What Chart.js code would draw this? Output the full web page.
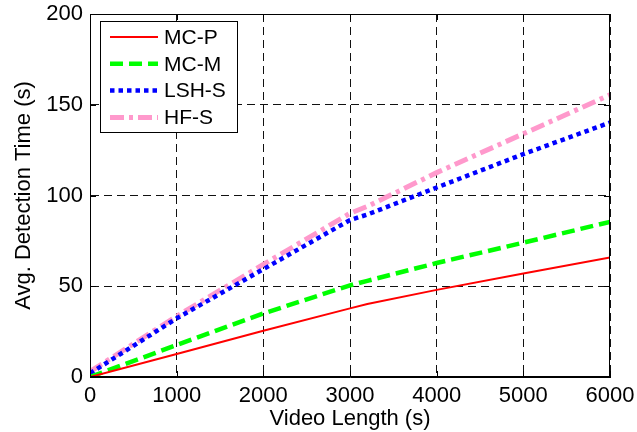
<!DOCTYPE html>
<html>
<head>
<meta charset="utf-8">
<script src="https://cdn.jsdelivr.net/npm/chart.js@4.4.0/dist/chart.umd.min.js"></script>
<style>
  html, body { margin: 0; padding: 0; background: #fff; }
</style>
</head>
<body>
<canvas id="chart" width="637" height="432"></canvas>
<script>
// data
const videoLength = [0, 1000, 2000, 3000, 3200, 4000, 5000, 6000];
const mcP  = [0, 12.7, 25.5, 37.8, 40.2, 48, 57, 65.8];
const mcM  = [0, 17.6, 35, 50.5, 53, 62.8, 74, 85.5];
const lshS = [2, 32.3, 59.4, 86.5, 89.5, 104.4, 122.8, 140.2];
const hfS  = [3, 33.5, 62, 90.2, 94, 112.6, 134, 155.5];
const seriesNames = ['MC-P', 'MC-M', 'LSH-S', 'HF-S'];

const FONT = '"Liberation Sans", Arial, Helvetica, sans-serif';

function toPoints(values) {
    return videoLength.map((x, i) => ({ x: x, y: values[i] }));
}

// legend drawn inside the plot, top-left, like the original
const insideLegend = {
    id: 'insideLegend',
    afterDatasetsDraw(chart) {
        const ctx = chart.ctx;
        const box = { x: 100.5, y: 21.5, w: 137, h: 111 };
        ctx.save();
        ctx.fillStyle = '#fff';
        ctx.fillRect(box.x, box.y, box.w, box.h);
        ctx.strokeStyle = '#000';
        ctx.lineWidth = 1;
        ctx.strokeRect(box.x, box.y, box.w, box.h);
        ctx.font = '21px ' + FONT;
        ctx.textBaseline = 'middle';
        ctx.fillStyle = '#000';
        chart.data.datasets.forEach((ds, i) => {
            const yy = 37 + i * 26.8;
            ctx.beginPath();
            ctx.strokeStyle = ds.borderColor;
            ctx.lineWidth = ds.borderWidth;
            ctx.setLineDash(ds.borderDash || []);
            ctx.moveTo(110, yy);
            ctx.lineTo(158, yy);
            ctx.stroke();
            ctx.setLineDash([]);
            ctx.fillText(ds.label, 164, yy + 1);
        });
        ctx.restore();
    }
};

// box around the axes and inward tick marks on all four sides
const axesFrame = {
    id: 'axesFrame',
    afterDraw(chart) {
        const { ctx, chartArea: a, scales } = chart;
        const x = scales.x, y = scales.y;
        ctx.save();
        ctx.strokeStyle = '#000';
        ctx.lineWidth = 1;
        ctx.setLineDash([]);
        ctx.strokeRect(Math.round(a.left) + 0.5, Math.round(a.top) + 0.5,
            Math.round(a.width) - 1, Math.round(a.height) - 1);
        ctx.beginPath();
        x.ticks.forEach(t => {
            const px = Math.round(x.getPixelForValue(t.value)) + 0.5;
            ctx.moveTo(px, a.bottom); ctx.lineTo(px, a.bottom - 6);
            ctx.moveTo(px, a.top); ctx.lineTo(px, a.top + 6);
        });
        y.ticks.forEach(t => {
            const py = Math.round(y.getPixelForValue(t.value)) + 0.5;
            ctx.moveTo(a.left, py); ctx.lineTo(a.left + 6, py);
            ctx.moveTo(a.right, py); ctx.lineTo(a.right - 6, py);
        });
        ctx.stroke();
        ctx.restore();
    }
};

const ctx = document.getElementById('chart').getContext('2d');
const chart = new Chart(ctx, {
    type: 'line',
    data: {
        datasets: [{
            label: seriesNames[0],
            data: toPoints(mcP),
            borderColor: '#ff0000',
            borderWidth: 2,
            borderDash: []
        }, {
            label: seriesNames[1],
            data: toPoints(mcM),
            borderColor: '#00ff00',
            borderWidth: 4.5,
            borderDash: [13, 6]
        }, {
            label: seriesNames[2],
            data: toPoints(lshS),
            borderColor: '#0000ff',
            borderWidth: 4.5,
            borderDash: [4.5, 4]
        }, {
            label: seriesNames[3],
            data: toPoints(hfS),
            borderColor: '#ff99cc',
            borderWidth: 5,
            borderDash: [14, 5, 4, 5]
        }]
    },
    options: {
        responsive: false,
        animation: false,
        layout: { padding: { top: 14, right: 27, left: 0, bottom: 0 } },
        elements: {
            point: { radius: 0 },
            line: { tension: 0, fill: false }
        },
        plugins: {
            legend: { display: false },
            tooltip: { enabled: false }
        },
        scales: {
            x: {
                type: 'linear',
                min: 0,
                max: 6000,
                ticks: {
                    stepSize: 1000,
                    color: '#000',
                    padding: 6,
                    maxRotation: 0,
                    font: { family: FONT, size: 22 },
                    callback: v => String(v)
                },
                grid: { color: '#111', lineWidth: 1, drawTicks: false },
                border: { color: '#000', dash: [8, 5] },
                title: {
                    display: true,
                    text: 'Video Length (s)',
                    color: '#000',
                    font: { family: FONT, size: 22 },
                    padding: { top: 0, bottom: 0 }
                },
                afterFit: s => {
                    s.height = 55;
                    s.paddingLeft = 0;
                    s.paddingRight = 0;
                }
            },
            y: {
                min: 0,
                max: 200,
                ticks: {
                    stepSize: 50,
                    color: '#000',
                    padding: 7,
                    font: { family: FONT, size: 22 },
                    callback: v => String(v)
                },
                grid: { color: '#111', lineWidth: 1, drawTicks: false },
                border: { color: '#000', dash: [8, 5] },
                title: {
                    display: true,
                    text: 'Avg. Detection Time (s)',
                    color: '#000',
                    font: { family: FONT, size: 22 },
                    padding: { top: 11, bottom: 0 }
                },
                afterFit: s => {
                    s.width = 90;
                    s.paddingTop = 0;
                    s.paddingBottom = 0;
                }
            }
        }
    },
    plugins: [insideLegend, axesFrame]
});
</script>
</body>
</html>
